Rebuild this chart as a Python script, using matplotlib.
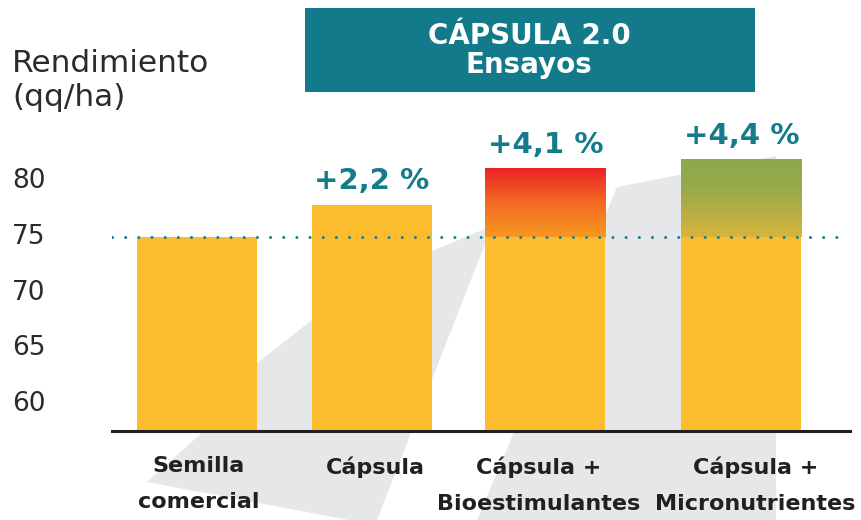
import numpy as np
import matplotlib
matplotlib.use("Agg")
import matplotlib.pyplot as plt
from matplotlib.colors import LinearSegmentedColormap
from matplotlib.patches import Polygon, Rectangle

# data
categories = ["Semilla\ncomercial", "Cápsula", "Cápsula +\nBioestimulantes", "Cápsula +\nMicronutrientes"]
yields = [74.7, 77.6, 80.85, 81.65]
gains = ["", "+2,2 %", "+4,1 %", "+4,4 %"]
y_ticks = [60, 65, 70, 75, 80]

# layout
x_pos = [0, 1, 1.99, 3.11]
label_pos = [0.01, 1.02, 1.95, 3.19]
bar_w = 0.686
W, H = 861, 520

yellow = "#FBBD2E"
teal = "#137B8B"
dark = "#2B2B2B"
grey = "#E6E7E8"

fig = plt.figure(figsize=(W / 100, H / 100), dpi=100)
fig.patch.set_facecolor("white")


def px(points):
    # pixel coords (from top-left) -> figure fraction
    return [(x / W, 1 - y / H) for x, y in points]


# background grey swoosh shapes (decoration)
shape_a = [(147, 482), (205, 430), (257, 363), (312, 320), (372, 284),
           (432, 251), (492, 226), (375, 525), (147, 482)]
shape_b = [(617, 187), (776, 156), (776, 525), (475, 525)]
for shp in (shape_a, shape_b):
    fig.patches.append(Polygon(px(shp), closed=True, transform=fig.transFigure,
                               facecolor=grey, edgecolor="none", zorder=-2))

ax = fig.add_axes([112 / W, 1 - 431 / H, (850 - 112) / W, (431 - 100) / H])
ax.set_zorder(2)
ax.patch.set_visible(False)

ax.bar(x_pos, yields, width=bar_w, color=yellow, zorder=2)

# gradient tops above the reference level
ref = yields[0]
cmaps = {
    2: LinearSegmentedColormap.from_list("red", ["#F7981F", "#F26A22", "#EC2227"]),
    3: LinearSegmentedColormap.from_list("green", ["#D9B43D", "#B5AE45", "#94A94A", "#8FA94B"]),
}
grad = np.linspace(0, 1, 256).reshape(-1, 1)
for i, cm in cmaps.items():
    ax.imshow(grad, cmap=cm, origin="lower", aspect="auto", zorder=3,
              extent=[x_pos[i] - bar_w / 2, x_pos[i] + bar_w / 2, ref, yields[i]])
ax.set_xlim(-0.486, 3.731)
ax.set_ylim(57.3, 87.05)

# reference dotted line
ax.axhline(ref, xmax=0.99, color="#1B7F8E", lw=2.2, linestyle=(0, (0.01, 4.3)),
           dash_capstyle="round", zorder=4)

for i, g in enumerate(gains):
    if g:
        ax.annotate(g, (x_pos[i], yields[i]), xytext=(0, 7), textcoords="offset points",
                    ha="center", va="bottom", fontsize=21, fontweight="bold", color=teal)

for s in ["top", "right", "left"]:
    ax.spines[s].set_visible(False)
ax.spines["bottom"].set_color("#231F20")
ax.spines["bottom"].set_linewidth(2.2)
ax.spines["bottom"].set_zorder(5)

ax.set_yticks(y_ticks)
ax.set_yticklabels([str(t) for t in y_ticks], fontsize=19, color=dark)
ax.tick_params(axis="y", length=0, pad=48)
ax.set_xticks(label_pos)
ax.set_xticklabels(categories, fontsize=16, fontweight="bold", color="#231F20", linespacing=2.0)
ax.tick_params(axis="x", length=0, pad=18)

fig.text(12 / W, 1 - 64 / H, "Rendimiento", fontsize=22.5, color=dark, ha="left", va="center")
fig.text(12 / W, 1 - 97 / H, "(qq/ha)", fontsize=22.5, color=dark, ha="left", va="center")

# title box
fig.patches.append(Rectangle((305 / W, 1 - 92 / H), (755 - 305) / W, (92 - 8) / H,
                             transform=fig.transFigure, facecolor="#127A8A",
                             edgecolor="none", zorder=-1))
fig.text(529 / W, 1 - 36 / H, "CÁPSULA 2.0", fontsize=20, fontweight="bold",
         color="white", ha="center", va="center")
fig.text(529 / W, 1 - 65 / H, "Ensayos", fontsize=20, fontweight="bold",
         color="white", ha="center", va="center")

fig.savefig("out.png", dpi=100)
